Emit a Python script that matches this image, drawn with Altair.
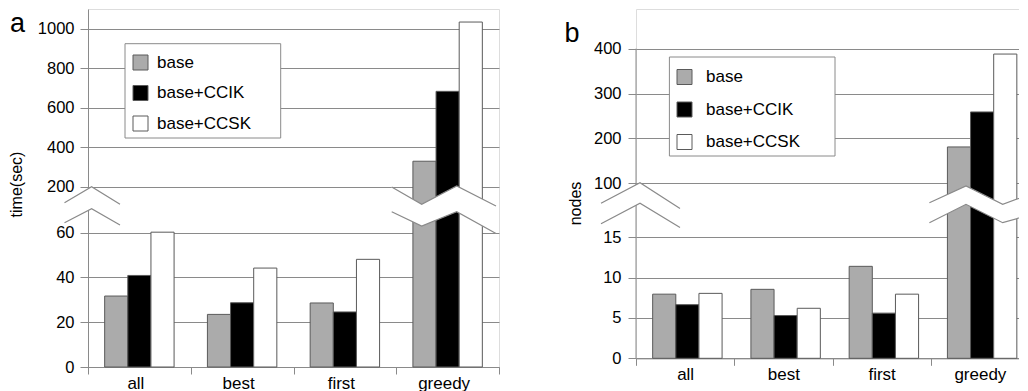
import altair as alt
import pandas as pd

# ---------------- data ----------------
categories = ["all", "best", "first", "greedy"]
series = ["base", "base+CCIK", "base+CCSK"]

time_base = [31.7, 23.5, 28.6, 329]
time_ccik = [40.9, 28.7, 24.6, 683]
time_ccsk = [61.6, 44.2, 48.1, 1034]

nodes_base = [7.95, 8.55, 11.4, 181]
nodes_ccik = [6.65, 5.3, 5.6, 259]
nodes_ccsk = [8.05, 6.2, 7.95, 388]

time_ticks = [0, 20, 40, 60, 200, 400, 600, 800, 1000]
node_ticks = [0, 5, 10, 15, 100, 200, 300, 400]

# broken-axis scale breakpoints (value domain pieces)
time_domain = [0, 60, 200, 1100]
node_domain = [0, 15, 100, 488.4]

FONT = "Liberation Sans"
GRAY = "#8a8a8a"
BAR_STROKE = "#5a5a5a"
fills = ["#ababab", "#000000", "#ffffff"]


def long_df(b, c, s):
    rows = []
    for i, cat in enumerate(categories):
        for name, vals in zip(series, [b, c, s]):
            rows.append({"category": cat, "series": name, "value": vals[i]})
    return pd.DataFrame(rows)


def break_df(parts):
    rows = []
    for p, (xs, ys, y2s) in enumerate(parts):
        for k, (x, y, y2) in enumerate(zip(xs, ys, y2s)):
            rows.append({"part": p, "k": k, "x": x, "y": y, "y2": y2})
    return pd.DataFrame(rows)


def panel(df, ticks, domain, rng, width, height, pad, title, title_x, title_y,
          lab_pad, x_lab_off, leg_x, leg_y, leg_off, row_pad, box, letter,
          letter_xy, breaks, own_domain):
    one = pd.DataFrame({"k": [0]})
    bars = alt.Chart(df).mark_bar(stroke=BAR_STROKE, strokeWidth=1).encode(
        x=alt.X("category:N", sort=categories, title=None,
                scale=alt.Scale(paddingInner=0, paddingOuter=0),
                axis=alt.Axis(tickBand="extent", labelAngle=0, labelFontSize=17,
                              labelColor="black", tickSize=7, tickColor=GRAY,
                              domainColor=GRAY, labelPadding=1,
                              labelOffset=x_lab_off, grid=False)),
        xOffset=alt.XOffset("series:N", sort=series,
                            scale=alt.Scale(paddingInner=0, paddingOuter=pad)),
        y=alt.Y("value:Q", title=title, stack=None,
                scale=alt.Scale(domain=domain, range=rng, nice=False, zero=False),
                axis=alt.Axis(values=ticks, format="d", grid=True, gridColor=GRAY,
                              tickColor=GRAY, tickSize=8, domain=not own_domain,
                              domainColor=GRAY, labelFontSize=16.5,
                              labelColor="black", labelPadding=lab_pad,
                              titleFontSize=16, titleFontWeight="normal",
                              titleColor="black", titleAngle=270,
                              titleAlign="center", titleBaseline="alphabetic",
                              titleX=title_x, titleY=title_y)),
        color=alt.Color("series:N", sort=series,
                        scale=alt.Scale(domain=series, range=fills),
                        legend=alt.Legend(title=None, orient="none",
                                          legendX=leg_x, legendY=leg_y,
                                          padding=0, symbolType="square",
                                          symbolSize=225, symbolStrokeColor=BAR_STROKE,
                                          symbolStrokeWidth=1, labelFontSize=17,
                                          labelColor="black", labelOffset=leg_off,
                                          rowPadding=row_pad, zindex=1)),
    )
    layers = []
    if own_domain:
        layers.append(alt.Chart(one).mark_rule(color=GRAY, strokeWidth=1).encode(
            x=alt.value(0), y=alt.datum(0), y2=alt.datum(400)))
    layers.append(bars)
    layers.append(alt.Chart(one).mark_rect(fill="white", stroke=GRAY, strokeWidth=1).encode(
        x=alt.value(box[0]), x2=alt.value(box[1]), y=alt.value(box[2]), y2=alt.value(box[3])))
    bd = break_df(breaks)
    for p in sorted(bd["part"].unique()):
        sub = bd[bd["part"] == p]
        layers.append(alt.Chart(sub).mark_area(fill="white", opacity=1, fillOpacity=1,
                                               orient="vertical", interpolate="linear").encode(
            x=alt.X("x:Q", scale=None, axis=None, title=None),
            y=alt.Y("y:Q", scale=None, axis=None, title=None, stack=None),
            y2="y2:Q"))
    ln = pd.concat([
        bd.assign(line=bd["part"] * 2, yy=bd["y"]),
        bd.assign(line=bd["part"] * 2 + 1, yy=bd["y2"]),
    ])
    layers.append(alt.Chart(ln).mark_line(color=GRAY, strokeWidth=1.2).encode(
        x=alt.X("x:Q", scale=None, axis=None, title=None),
        y=alt.Y("yy:Q", scale=None, axis=None, title=None),
        detail="line:N", order="k:Q"))
    layers.append(alt.Chart(one).mark_text(text=letter, fontSize=27, align="left",
                                           baseline="top", color="black").encode(
        x=alt.value(letter_xy[0]), y=alt.value(letter_xy[1])))
    return alt.layer(*layers).properties(width=width, height=height)


pa = panel(long_df(time_base, time_ccik, time_ccsk), time_ticks, time_domain,
           [358, 223.7, 177.7, 0], 411, 358, 0.72, "time(sec)", -66.4, 175,
           6, -4, 44, 45, 8, 11.5, (37, 192.7, 34.7, 129), "a", (-78, 2.4),
           [([-23.5, 3.6, 32], [193.7, 177.7, 195.3], [213.7, 199.7, 216]),
            ([303.7, 333.7, 368.7, 408], [178, 195.3, 177, 197], [202.7, 217, 202.7, 224.5])],
           False)

pb = panel(long_df(nodes_base, nodes_ccik, nodes_ccsk), node_ticks, node_domain,
           [349.3, 228.3, 174.3, 0], 393, 349.3, 0.755, "nodes", -55.6, 194,
           7, 0, 40, 59.5, 13, 13.5, (33.4, 199, 48, 147), "b", (-71.6, 12.4),
           [([-35, 4, 44], [194.3, 173.7, 199.5], [214.7, 194.3, 218.5]),
            ([293.4, 330, 366.7, 395], [193.7, 177, 195.3, 185], [213.7, 195.3, 213.7, 205.5])],
           True)

chart = alt.hconcat(pa, pb, spacing=63).resolve_scale(color="independent").configure_view(
    stroke=None).configure(font=FONT).configure_axis(labelFont=FONT, titleFont=FONT).configure_legend(
    labelFont=FONT).configure_text(font=FONT).properties(
    padding={"left": 0, "top": 0, "right": -15, "bottom": 0})

chart.save("out.html", embed_options={"renderer": "svg", "actions": False})
